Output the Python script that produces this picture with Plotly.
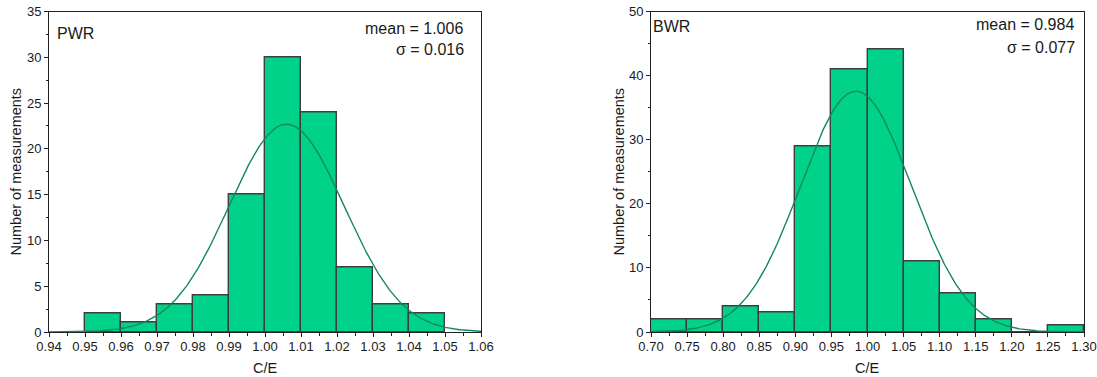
import numpy as np
import plotly.graph_objects as go

# ---------------- data ----------------
pwr_edges = [0.95, 0.96, 0.97, 0.98, 0.99, 1.00, 1.01, 1.02, 1.03, 1.04, 1.05]
pwr_counts = [2, 1, 3, 4, 15, 30, 24, 7, 3, 2]
pwr_mean = 1.006
pwr_sigma = 0.016

bwr_edges = [0.70, 0.75, 0.80, 0.85, 0.90, 0.95, 1.00, 1.05, 1.10, 1.15, 1.20, 1.25, 1.30]
bwr_counts = [2, 2, 4, 3, 29, 41, 44, 11, 6, 2, 0, 1]
bwr_mean = 0.984
bwr_sigma = 0.077

pwr_ticks = [0.94, 0.95, 0.96, 0.97, 0.98, 0.99, 1.00, 1.01, 1.02, 1.03, 1.04, 1.05, 1.06]
bwr_ticks = [0.70, 0.75, 0.80, 0.85, 0.90, 0.95, 1.00, 1.05, 1.10, 1.15, 1.20, 1.25, 1.30]

BAR_FILL = "#00D28A"
BAR_EDGE = "#3E3E3E"
CURVE = "#13885A"
FONT = "Liberation Sans, Arial, sans-serif"
TXT = "#1a1a1a"
W, H = 1097, 377


def gauss_curve(edges, counts, mu, sd, lo, hi):
    n = sum(counts)
    bw = edges[1] - edges[0]
    xs = np.linspace(lo, hi, 400)
    ys = n * bw / (sd * np.sqrt(2 * np.pi)) * np.exp(-0.5 * ((xs - mu) / sd) ** 2)
    return xs, ys


fig = go.Figure()


def add_hist(edges, counts, mu, sd, lo, hi, xa, ya):
    centers = [(edges[i] + edges[i + 1]) / 2 for i in range(len(counts))]
    widths = [edges[i + 1] - edges[i] for i in range(len(counts))]
    fig.add_trace(go.Bar(x=centers, y=counts, width=widths,
                         marker=dict(color=BAR_FILL, line=dict(color=BAR_EDGE, width=1.4)),
                         xaxis=xa, yaxis=ya, showlegend=False, hoverinfo="skip"))
    xs, ys = gauss_curve(edges, counts, mu, sd, lo, hi)
    fig.add_trace(go.Scatter(x=xs, y=ys, mode="lines",
                             line=dict(color=CURVE, width=1.4),
                             xaxis=xa, yaxis=ya, showlegend=False, hoverinfo="skip"))


add_hist(pwr_edges, pwr_counts, pwr_mean, pwr_sigma, 0.94, 1.06, "x", "y")
add_hist(bwr_edges, bwr_counts, bwr_mean, bwr_sigma, 0.70, 1.30, "x2", "y2")

ydom = [(H - 332) / H, (H - 11.5) / H]
axis_common = dict(showline=True, linecolor="#222", linewidth=1, mirror=True,
                   ticks="outside", ticklen=4, tickwidth=1, tickcolor="#222",
                   showgrid=False, zeroline=False, automargin=False,
                   tickfont=dict(family=FONT, size=13, color=TXT))

fig.update_layout(
    width=W, height=H,
    margin=dict(l=0, r=0, t=0, b=0, autoexpand=False),
    plot_bgcolor="white", paper_bgcolor="white",
    bargap=0,
    font=dict(family=FONT, color=TXT),
    xaxis=dict(domain=[49 / W, 481 / W], range=[0.94, 1.06], anchor="y",
               tickvals=pwr_ticks, ticktext=[f"{v:.2f}" for v in pwr_ticks],
               ticklabelstandoff=-2,
               minor=dict(ticks="outside", ticklen=2.5, dtick=0.005, tick0=0.94, tickcolor="#222"),
               **axis_common),
    yaxis=dict(domain=ydom, range=[0, 35], anchor="x", dtick=5,
               minor=dict(ticks="outside", ticklen=2.5, dtick=2.5, tickcolor="#222"),
               **axis_common),
    xaxis2=dict(domain=[651 / W, 1084 / W], range=[0.70, 1.30], anchor="y2",
                tickvals=bwr_ticks, ticktext=[f"{v:.2f}" for v in bwr_ticks],
                ticklabelstandoff=-2,
                minor=dict(ticks="outside", ticklen=2.5, dtick=0.025, tick0=0.70, tickcolor="#222"),
                **axis_common),
    yaxis2=dict(domain=ydom, range=[0, 50], anchor="x2", dtick=10,
                minor=dict(ticks="outside", ticklen=2.5, dtick=5, tickcolor="#222"),
                **axis_common),
)


def px(x):
    return x / W


def py(y):
    return 1 - y / H


ann_font = dict(family=FONT, size=16, color=TXT)
title_font = dict(family=FONT, size=14.5, color=TXT)
anns = [
    dict(text="PWR", x=px(54.5), y=py(33), xanchor="left", yanchor="middle", font=ann_font),
    dict(text=f"mean = {pwr_mean:.3f}", x=px(465), y=py(28), xanchor="right", yanchor="middle", font=ann_font),
    dict(text=f"σ = {pwr_sigma:.3f}", x=px(466), y=py(50), xanchor="right", yanchor="middle", font=ann_font),
    dict(text="BWR", x=px(650.5), y=py(27), xanchor="left", yanchor="middle", font=ann_font),
    dict(text=f"mean = {bwr_mean:.3f}", x=px(1076), y=py(25), xanchor="right", yanchor="middle", font=ann_font),
    dict(text=f"σ = {bwr_sigma:.3f}", x=px(1077), y=py(47), xanchor="right", yanchor="middle", font=ann_font),
    dict(text="Number of measurements", x=px(15.5), y=py(172), textangle=-90, xanchor="center", yanchor="middle", font=title_font),
    dict(text="Number of measurements", x=px(618.5), y=py(172), textangle=-90, xanchor="center", yanchor="middle", font=title_font),
    dict(text="C/E", x=px(265), y=py(368), xanchor="center", yanchor="middle", font=title_font),
    dict(text="C/E", x=px(867.5), y=py(368), xanchor="center", yanchor="middle", font=title_font),
]
for a in anns:
    a.update(showarrow=False, xref="paper", yref="paper")
fig.update_layout(annotations=anns)

fig.write_html("out.html")
